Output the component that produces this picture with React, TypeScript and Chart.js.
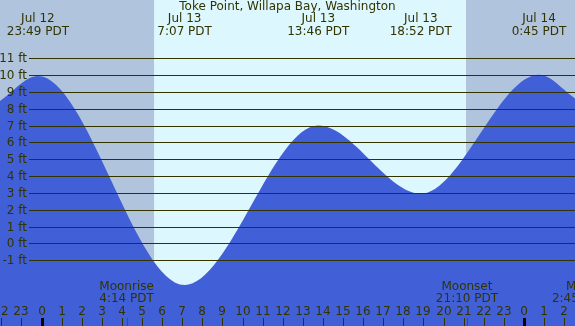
import React, { useEffect, useRef } from 'react';
import { Chart, registerables } from 'chart.js';

Chart.register(...registerables);

// Hours are measured from Jul 13 00:00 PDT
const tideHours = [-2.07, -0.18, 7.12, 13.77, 18.87, 24.75, 26.56];
const tideFeet = [8.45, 9.94, -2.48, 7.0, 2.95, 10.02, 8.6];

const footLevels = [-1, 0, 1, 2, 3, 4, 5, 6, 7, 8, 9, 10, 11];

const extremeHours = [-0.18, 7.12, 13.77, 18.87, 24.75];
const extremeDates = ['Jul 12', 'Jul 13', 'Jul 13', 'Jul 13', 'Jul 14'];
const extremeTimes = ['23:49 PDT', '7:07 PDT', '13:46 PDT', '18:52 PDT', '0:45 PDT'];

const hourTicks = [-2, -1, 0, 1, 2, 3, 4, 5, 6, 7, 8, 9, 10, 11, 12, 13, 14, 15, 16, 17, 18, 19, 20, 21, 22, 23, 24, 25, 26];

const moonHours = [4.233, 21.167, 26.75];
const moonNames = ['Moonrise', 'Moonset', 'Moonrise'];
const moonTimes = ['4:14 PDT', '21:10 PDT', '2:45 PDT'];

const sunriseHour = 5.6;
const sunsetHour = 21.12;

const TITLE = 'Toke Point, Willapa Bay, Washington';

const X_MIN = -2.065;
const X_MAX = 26.542;
const Y_MIN = -4.91;
const Y_MAX = 14.46;

const NIGHT = '#b0c4de';
const DAY = '#ddf7ff';
const WATER = '#4160d8';
const INK = '#333300';
const FONT = '12px "DejaVu Sans"';

const backgroundPlugin = {
  id: 'tideBackground',
  beforeDatasetsDraw(chart: any) {
    const { ctx, chartArea, scales } = chart;
    const x = scales.x;
    ctx.save();
    ctx.fillStyle = NIGHT;
    ctx.fillRect(chartArea.left, chartArea.top, chartArea.right - chartArea.left, chartArea.bottom - chartArea.top);
    const x1 = x.getPixelForValue(sunriseHour);
    const x2 = x.getPixelForValue(sunsetHour);
    ctx.fillStyle = DAY;
    ctx.fillRect(x1, chartArea.top, x2 - x1, chartArea.bottom - chartArea.top);
    ctx.restore();
  },
};

const overlayPlugin = {
  id: 'tideOverlay',
  afterDatasetsDraw(chart: any) {
    const { ctx, chartArea, scales } = chart;
    const xs = scales.x;
    const ys = scales.y;
    ctx.save();
    ctx.font = FONT;
    ctx.fillStyle = INK;
    ctx.strokeStyle = INK;

    // foot lines and labels
    ctx.lineWidth = 1;
    footLevels.forEach((f) => {
      const y = Math.round(ys.getPixelForValue(f)) + 0.5;
      ctx.beginPath();
      ctx.moveTo(29, y);
      ctx.lineTo(chartArea.right, y);
      ctx.stroke();
      ctx.textAlign = 'right';
      ctx.textBaseline = 'middle';
      ctx.fillText(`${f} ft`, 27, y);
    });

    // title
    ctx.textAlign = 'center';
    ctx.textBaseline = 'middle';
    ctx.fillText(TITLE, (chartArea.left + chartArea.right) / 2, 7);

    // extremes labels
    extremeHours.forEach((h, i) => {
      const x = xs.getPixelForValue(h);
      ctx.fillText(extremeDates[i], x, 19);
      ctx.fillText(extremeTimes[i], x, 32);
    });

    // hour ticks
    hourTicks.forEach((h) => {
      const x = Math.round(xs.getPixelForValue(h));
      const label = String(((h % 24) + 24) % 24);
      ctx.fillText(label, x, 312);
      if (label === '0') {
        ctx.fillStyle = '#000000';
        ctx.fillRect(x - 1, 318, 3, 8);
        ctx.fillStyle = INK;
      } else {
        ctx.fillRect(x, 318, 1, 8);
      }
    });

    // moon events
    moonHours.forEach((h, i) => {
      const x = xs.getPixelForValue(h);
      const xr = Math.round(x);
      ctx.fillStyle = '#ff0000';
      ctx.fillRect(xr, 318, 1, 8);
      ctx.fillStyle = INK;
      const shift = x > chartArea.right ? 14 : 0;
      ctx.fillText(moonNames[i], x + shift, 287);
      ctx.fillText(moonTimes[i], x, 299);
    });

    ctx.restore();
  },
};

export default function App() {
  const canvasRef = useRef<HTMLCanvasElement | null>(null);

  useEffect(() => {
    document.body.style.margin = '0';
    const canvas = canvasRef.current;
    if (!canvas) return;
    const chart = new Chart(canvas, {
      type: 'line',
      data: {
        datasets: [
          {
            data: tideHours.map((h, i) => ({ x: h, y: tideFeet[i] })),
            backgroundColor: WATER,
            borderWidth: 0,
            borderColor: WATER,
            pointRadius: 0,
            fill: 'start',
            cubicInterpolationMode: 'monotone',
          },
        ],
      },
      options: {
        animation: false,
        responsive: false,
        maintainAspectRatio: false,
        layout: { padding: 0 },
        plugins: {
          legend: { display: false },
          tooltip: { enabled: false },
          title: { display: false },
        },
        scales: {
          x: { type: 'linear', display: false, min: X_MIN, max: X_MAX },
          y: { type: 'linear', display: false, min: Y_MIN, max: Y_MAX },
        },
      },
      plugins: [backgroundPlugin, overlayPlugin],
    } as any);
    return () => chart.destroy();
  }, []);

  return (
    <div style={{ width: 575, height: 326 }}>
      <canvas ref={canvasRef} width={575} height={326} style={{ display: 'block' }} />
    </div>
  );
}
